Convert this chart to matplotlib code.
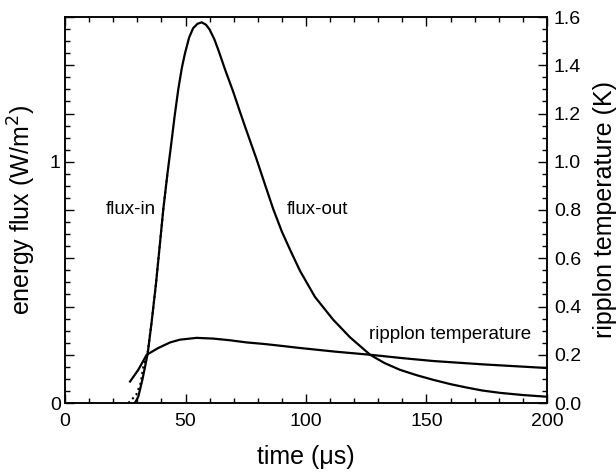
import matplotlib
matplotlib.use('Agg')
import matplotlib.pyplot as plt
from matplotlib.ticker import MultipleLocator

plt.rcParams['font.family'] = ['Liberation Sans', 'DejaVu Sans']

# flux-out (solid), time in us, energy flux in W/m^2
flux_out_t = [29.0, 30.4, 32.1, 34.3, 36.0, 37.8, 40.8, 42.5, 43.9, 45.5, 47.0, 48.5,
              49.8, 51.5, 53.2, 55.0, 56.7, 58.5, 60.0, 62.0, 63.6, 66.5, 69.8, 72.6,
              74.7, 79.5, 83.0, 86.4, 90.0, 93.4, 97.5, 103.7, 111.3, 118.3, 126.6,
              132.5, 139.0, 146.0, 152.8, 160.0, 166.7, 173.0, 180.5, 190.0, 200.0]
flux_out = [0.0, 0.026, 0.096, 0.204, 0.34, 0.499, 0.804, 0.95, 1.06, 1.19, 1.30, 1.39,
            1.45, 1.515, 1.554, 1.572, 1.578, 1.568, 1.548, 1.507, 1.464, 1.38, 1.29, 1.207,
            1.146, 1.01, 0.905, 0.804, 0.71, 0.635, 0.548, 0.44, 0.345, 0.272, 0.2,
            0.166, 0.1375, 0.115, 0.096, 0.078, 0.064, 0.052, 0.042, 0.033, 0.026]

# flux-in (dotted), only differs from flux-out at the onset
flux_in_t = [26.3, 29.5, 31.4, 32.5, 34.3, 36.0, 37.8, 40.8, 42.5]
flux_in = [0.0, 0.033, 0.082, 0.151, 0.21, 0.34, 0.499, 0.804, 0.95]

# ripplon temperature (K)
temp_t = [27.0, 30.4, 33.9, 38.7, 43.6, 47.7, 54.6, 61.5, 68.5, 75.4, 82.3, 89.2,
          97.5, 112.0, 126.6, 140.0, 152.8, 173.6, 200.0]
temp = [0.089, 0.1375, 0.2, 0.228, 0.251, 0.2625, 0.27, 0.267, 0.26, 0.251, 0.245,
        0.2375, 0.228, 0.213, 0.2, 0.186, 0.174, 0.16, 0.145]

fig = plt.figure(figsize=(6.16, 4.74), dpi=100)
ax = fig.add_axes([65 / 616, 71 / 474, 482 / 616, 386 / 474])
ax2 = ax.twinx()

ax.plot(flux_in_t, flux_in, color='black', lw=1.5, ls=':')
ax.plot(flux_out_t, flux_out, color='black', lw=1.6)
ax2.plot(temp_t, temp, color='black', lw=1.6)

ax.set_xlim(0, 200)
ax.set_ylim(0, 1.6)
ax2.set_ylim(0, 1.6)

ax.set_xticks([0, 50, 100, 150, 200])
ax.xaxis.set_minor_locator(MultipleLocator(10))
left_ticks = [0, 0.2, 0.4, 0.6, 0.8, 1.0, 1.2, 1.4, 1.6]
ax.set_yticks(left_ticks)
ax.set_yticklabels(['0', '', '', '', '', '1', '', '', ''])
ax.yaxis.set_minor_locator(MultipleLocator(0.05))
ax2.set_yticks(left_ticks)
ax2.set_yticklabels(['%.1f' % v for v in left_ticks])
ax2.yaxis.set_minor_locator(MultipleLocator(0.05))

ax.tick_params(axis='x', which='both', direction='in', top=True, labelsize=14, pad=7)
ax.tick_params(axis='y', which='both', direction='in', right=False, labelsize=14, pad=3)
ax2.tick_params(axis='y', which='both', direction='in', labelsize=14, pad=5)
for a in (ax, ax2):
    a.tick_params(which='major', length=6.5, width=1.0)
    a.tick_params(which='minor', length=3.5, width=1.0)
    for s in a.spines.values():
        s.set_linewidth(1.1)

ax.set_xlabel('time (\u03bcs)', fontsize=18)
ax.set_ylabel('energy flux (W/m$^2$)', fontsize=18)
ax2.set_ylabel('ripplon temperature (K)', fontsize=18)
ax.xaxis.set_label_coords(0.5, -0.108)
ax.yaxis.set_label_coords(-0.057, 0.5)
ax2.yaxis.set_label_coords(1.096, 0.5)

ax.text(27.2, 0.804, 'flux-in', fontsize=13.5, ha='center', va='center')
ax.text(104.8, 0.804, 'flux-out', fontsize=13.5, ha='center', va='center')
ax.text(159.7, 0.283, 'ripplon temperature', fontsize=13.5, ha='center', va='center')

fig.savefig('out.png', dpi=100)
